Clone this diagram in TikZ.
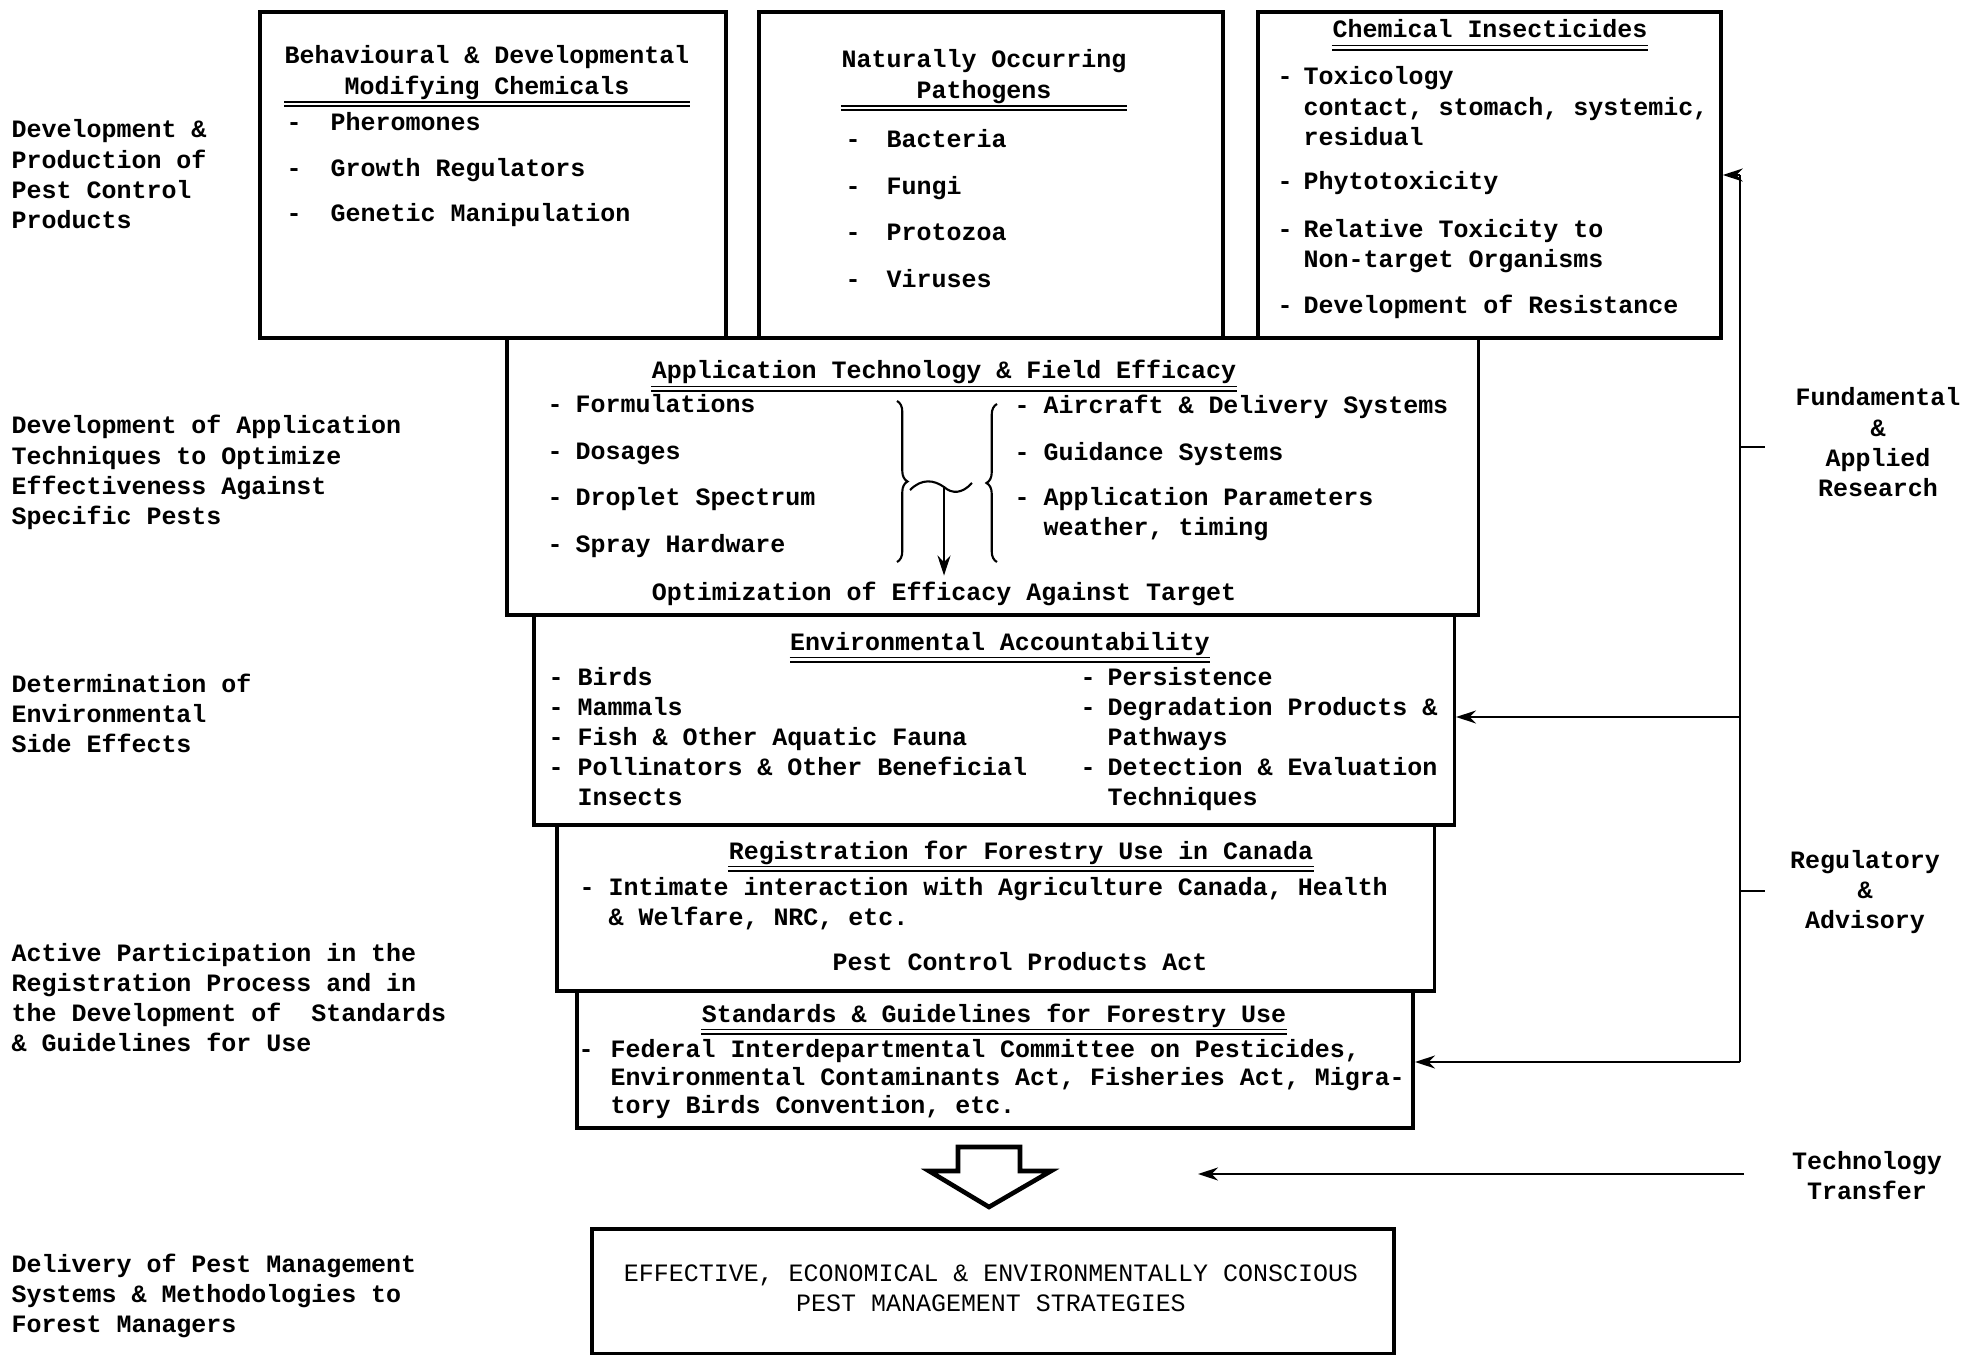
\documentclass[tikz,border=0pt]{standalone}
\usepackage{fontspec}
\setmainfont{Liberation Mono}
\usepackage{tikz}
\usetikzlibrary{arrows.meta, positioning, decorations.pathreplacing}

\newcommand{\ctext}[1]{\begin{tabular}[t]{@{}c@{}}#1\end{tabular}}
\newcommand{\ltext}[1]{\begin{tabular}[t]{@{}l@{}}#1\end{tabular}}
\newcommand{\dlist}[2]{\begin{tabular}[t]{@{}p{#1}@{}l@{}}#2\end{tabular}}

\begin{document}
\begin{tikzpicture}[x=0.01cm, y=-0.01cm,
    box/.style={draw, line width=1pt, rectangle, anchor=north west, inner sep=0pt},
    txt/.style={anchor=base, inner sep=0pt, yshift=-0.04cm, font=\fontsize{7.1}{8.6}\selectfont\bfseries},
    lst/.style={anchor=base west, inner sep=0pt, yshift=-0.04cm, font=\fontsize{7.1}{8.6}\selectfont\bfseries},
    uline/.style={double, double distance=0.8pt, line width=0.45pt},
    arr/.style={-{Stealth[length=2mm,width=1.3mm]}, line width=0.6pt}]
    \useasboundingbox (0,0) rectangle (1963,1355);

    \node[box, minimum width=4.66cm, minimum height=3.26cm] (behav) at (258,10) {};
    \node[box, minimum width=4.64cm, minimum height=3.26cm] (patho) at (757,10) {};
    \node[box, minimum width=4.63cm, minimum height=3.26cm] (chem) at (1256,10) {};
    \node[box, minimum width=9.71cm, minimum height=2.77cm] (appl) at (505,336) {};
    \node[box, minimum width=9.20cm, minimum height=2.10cm] (env) at (532,613) {};
    \node[box, minimum width=8.77cm, minimum height=1.66cm] (regis) at (555,823) {};
    \node[box, minimum width=8.36cm, minimum height=1.37cm] (stand) at (575,989) {};
    \node[box, minimum width=8.02cm, minimum height=1.25cm] (strat) at (590,1227) {};

    \node[txt] (behavT) at (487,60) {\ctext{Behavioural \& Developmental\\Modifying Chemicals}};
    \draw[uline] (behavT.south west) -- (behavT.south east);
    \node[lst] (behavL) at (286,127) {\dlist{0.44cm}{-&Pheromones\\[4.3pt] -&Growth Regulators\\[4.3pt] -&Genetic Manipulation}};

    \node[txt] (pathoT) at (984,64) {\ctext{Naturally Occurring\\Pathogens}};
    \draw[uline] (pathoT.south west) -- (pathoT.south east);
    \node[lst] (pathoL) at (845,144) {\dlist{0.41cm}{-&Bacteria\\[4.6pt] -&Fungi\\[4.6pt] -&Protozoa\\[4.6pt] -&Viruses}};

    \node[txt] (chemT) at (1490,34) {\ctext{Chemical Insecticides}};
    \draw[uline] (chemT.south west) -- (chemT.south east);
    \node[lst] (chemL) at (1277,81) {\dlist{0.26cm}{-&Toxicology\\ &contact, stomach, systemic,\\ &residual\\[3.9pt] -&Phytotoxicity\\[5.1pt] -&Relative Toxicity to\\ &Non-target Organisms\\[4.5pt] -&Development of Resistance}};

    \node[txt] (applT) at (944,375) {\ctext{Application Technology \& Field Efficacy}};
    \draw[uline] (applT.south west) -- (applT.south east);
    \node[lst] (applL) at (547,409) {\dlist{0.28cm}{-&Formulations\\[4.6pt] -&Dosages\\[4.6pt] -&Droplet Spectrum\\[4.6pt] -&Spray Hardware}};
    \node[lst] (applR) at (1014,410) {\dlist{0.29cm}{-&Aircraft \& Delivery Systems\\[4.6pt] -&Guidance Systems\\[4.2pt] -&Application Parameters\\ &weather, timing}};
    \node[txt] (optim) at (944,596) {Optimization of Efficacy Against Target};
    \draw[decorate, decoration={brace, amplitude=3pt}, line width=0.6pt] (897,401) -- (897,562);
    \draw[decorate, decoration={brace, amplitude=3pt}, line width=0.6pt] (997,562) -- (997,404);
    \coordinate (tildemid) at (944,487);
    \draw[line width=0.6pt] (910,490) .. controls (922,478) and (934,480) .. (tildemid) .. controls (952,494) and (962,494) .. (972,483);
    \draw[arr, shorten >=1.5pt] (tildemid) -- (tildemid |- optim.north);

    \node[txt] (envT) at (1000,646) {\ctext{Environmental Accountability}};
    \draw[uline] (envT.south west) -- (envT.south east);
    \node[lst] (envL) at (548,681) {\dlist{0.29cm}{-&Birds\\ -&Mammals\\ -&Fish \& Other Aquatic Fauna\\ -&Pollinators \& Other Beneficial\\ &Insects}};
    \node[lst] (envR) at (1080,681) {\dlist{0.27cm}{-&Persistence\\ -&Degradation Products \&\\ &Pathways\\ -&Detection \& Evaluation\\ &Techniques}};

    \node[txt] (regisT) at (1021,855) {\ctext{Registration for Forestry Use in Canada}};
    \draw[uline] (regisT.south west) -- (regisT.south east);
    \node[lst] (regisL) at (579,891) {\dlist{0.29cm}{-&Intimate interaction with Agriculture Canada, Health\\ &\& Welfare, NRC, etc.}};
    \node[txt] (pcpa) at (1020,966) {Pest Control Products Act};

    \node[txt] (standT) at (994,1018) {\ctext{Standards \& Guidelines for Forestry Use}};
    \draw[uline] (standT.south west) -- (standT.south east);
    \node[lst] (standL) at (578,1053) {\dlist{0.32cm}{-&Federal Interdepartmental Committee on Pesticides,\\[-0.5pt] &Environmental Contaminants Act, Fisheries Act, Migra-\\[-0.5pt] &tory Birds Convention, etc.}};

    \draw[line width=1.3pt] (958,1147) -- (1020,1147) -- (1020,1171) -- (1051,1171) -- (989,1207) -- (929,1171) -- (958,1171) -- cycle;
    \node[txt, font=\fontsize{7.1}{8.6}\selectfont] (stratT) at (991,1277) {\ctext{EFFECTIVE, ECONOMICAL \& ENVIRONMENTALLY CONSCIOUS\\PEST MANAGEMENT STRATEGIES}};

    \node[lst] (prod) at (11,134) {\ltext{Development \&\\Production of\\Pest Control\\Products}};
    \node[lst] (tech) at (11,430) {\ltext{Development of Application\\Techniques to Optimize\\Effectiveness Against\\Specific Pests}};
    \node[lst] (side) at (11,688) {\ltext{Determination of\\Environmental\\Side Effects}};
    \node[lst] (partic) at (11,957) {\ltext{Active Participation in the\\Registration Process and in\\the Development of\ \ Standards\\\& Guidelines for Use}};
    \node[lst] (deliv) at (11,1268) {\ltext{Delivery of Pest Management\\Systems \& Methodologies to\\Forest Managers}};

    \node[txt] (fund) at (1878,402) {\ctext{Fundamental\\\&\\Applied\\Research}};
    \node[txt] (regul) at (1865,864) {\ctext{Regulatory\\\&\\Advisory}};
    \node[txt] (transf) at (1867,1165) {\ctext{Technology\\Transfer}};

    \coordinate (fbtop) at (1740,175);
    \coordinate (fbenv) at (1740,717);
    \coordinate (fbbot) at (1740,1062);
    \coordinate (fbres) at (1740,447);
    \coordinate (fbreg) at (1740,891);
    \draw[line width=0.6pt] (fbtop) -- (fbbot);
    \draw[arr] (fbtop) -- (chem.east |- fbtop);
    \draw[arr] (fbenv) -- (env.east |- fbenv);
    \draw[arr] (fbbot) -- (stand.east |- fbbot);
    \draw[line width=0.6pt] (fbres) -- ++(25,0);
    \draw[line width=0.6pt] (fbreg) -- ++(25,0);
    \coordinate (ttstart) at (1744,1174);
    \coordinate (ttend) at (1198,1174);
    \draw[arr] (ttstart) -- (ttend);
\end{tikzpicture}
\end{document}
